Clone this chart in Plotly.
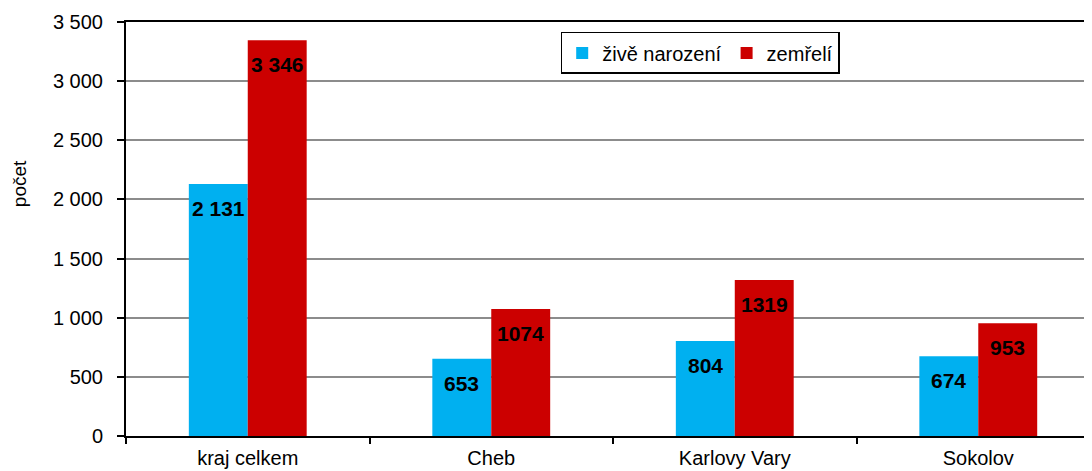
import plotly.graph_objects as go

categories = ["kraj celkem", "Cheb", "Karlovy Vary", "Sokolov"]
zive_narozeni = [2131, 653, 804, 674]
zemreli = [3346, 1074, 1319, 953]
label_zive = ["2 131", "653", "804", "674"]
label_zemreli = ["3 346", "1074", "1319", "953"]
ytick_vals = [0, 500, 1000, 1500, 2000, 2500, 3000, 3500]
ytick_text = ["0", "500", "1 000", "1 500", "2 000", "2 500", "3 000", "3 500"]

BLUE = "#00B0F0"
RED = "#CC0000"
FONT = "Liberation Sans, Arial"

fig = go.Figure()
fig.add_bar(x=categories, y=zive_narozeni, name="živě narození", marker=dict(color=BLUE, line=dict(width=0)))
fig.add_bar(x=categories, y=zemreli, name="zemřelí", marker=dict(color=RED, line=dict(width=0)))

for c, v, t in zip(categories, zive_narozeni, label_zive):
    fig.add_annotation(x=c, y=v, text=t, showarrow=False, xshift=-29.5, yanchor="top", yshift=-11,
                       font=dict(family=FONT, size=21, color="black", weight="bold"))
for c, v, t in zip(categories, zemreli, label_zemreli):
    fig.add_annotation(x=c, y=v, text=t, showarrow=False, xshift=29.5, yanchor="top", yshift=-11,
                       font=dict(family=FONT, size=21, color="black", weight="bold"))

# y-axis title (placed above centre as in the reference)
fig.add_annotation(xref="paper", yref="paper", x=-0.123, y=0.61, text="počet", textangle=-90,
                   showarrow=False, font=dict(family=FONT, size=19, color="black"))

fig.update_layout(
    width=1084, height=463,
    margin=dict(l=118, r=0, t=14, b=35, autoexpand=False),
    paper_bgcolor="white", plot_bgcolor="white",
    barmode="group", bargap=0.516, bargroupgap=0,
    font=dict(family=FONT, size=20, color="black"),
    showlegend=True,
    legend=dict(orientation="h", x=0.45, y=0.976, xanchor="left", yanchor="top",
                bordercolor="black", borderwidth=1.5, bgcolor="white",
                font=dict(size=20), itemwidth=30, tracegroupgap=0),
    xaxis=dict(range=[-0.5, 3.467], showline=True, linecolor="black", linewidth=2, mirror=True,
               ticks="outside", tickson="boundaries", ticklen=6, tickcolor="black", tickwidth=2,
               ticklabelstandoff=3, automargin=False,
               showgrid=False, tickfont=dict(size=20)),
    yaxis=dict(range=[0, 3500], tickvals=ytick_vals, ticktext=ytick_text,
               showline=True, linecolor="black", linewidth=2,
               ticks="outside", ticklen=7, tickcolor="black", tickwidth=1.5,
               ticklabelstandoff=10, automargin=False,
               showgrid=True, gridcolor="#8C8C8C", gridwidth=2,
               zeroline=False, tickfont=dict(size=20)),
)

fig.write_html("out.html")
